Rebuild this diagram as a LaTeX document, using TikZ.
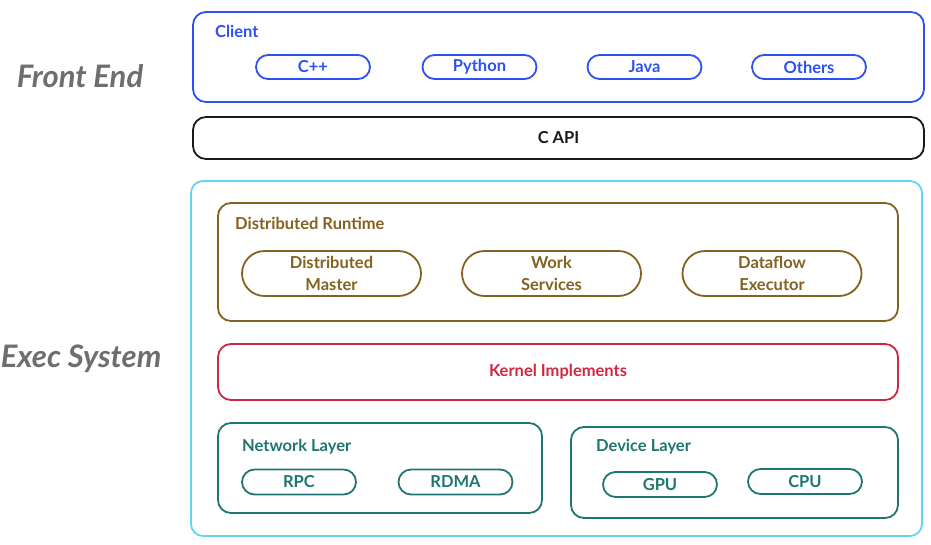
\documentclass[tikz,border=0pt]{standalone}
\usepackage{fontspec}
\setmainfont{Lato}
\usetikzlibrary{shapes.misc}
\definecolor{cblue}{RGB}{45,80,245}
\definecolor{cbrown}{RGB}{130,98,30}
\definecolor{cred}{RGB}{208,40,64}
\definecolor{cteal}{RGB}{30,118,115}
\definecolor{ccyan}{RGB}{95,215,240}
\definecolor{cgray}{RGB}{110,110,110}
\definecolor{cblack}{RGB}{25,25,25}
\tikzset{
  txt/.style={font=\fontsize{16.5}{22}\selectfont\bfseries},
  box/.style={draw, line width=1.8pt, rounded corners=13pt, inner sep=0pt, txt},
  pill/.style={draw, rounded rectangle, line width=1.8pt, inner sep=0pt, align=center, txt},
  ttl/.style={anchor=west, inner sep=0pt, txt},
  side/.style={text=cgray, inner sep=0pt, font=\fontsize{31}{34}\selectfont\bfseries\itshape},
}
\begin{document}
\begin{tikzpicture}[x=1pt,y=-1pt]
\useasboundingbox (0,0) rectangle (931,544);
% side labels
\node[side] (fe) at (80,76) {Front End};
\node[side] (es) at (81,359) {Exec System};
% client
\node[box, draw=cblue, minimum width=731pt, minimum height=90pt] (client) at (558.5,57) {};
\node[ttl, text=cblue] (clientt) at (215,31) {Client};
\node[pill, draw=cblue, text=cblue, minimum width=114pt, minimum height=24pt] (cpp) at (313,67) {C++};
\node[pill, draw=cblue, text=cblue, minimum width=114pt, minimum height=24pt] (py) at (479.5,67) {Python};
\node[pill, draw=cblue, text=cblue, minimum width=114pt, minimum height=24pt] (java) at (644.5,67) {Java};
\node[pill, draw=cblue, text=cblue, minimum width=114pt, minimum height=24pt] (oth) at (809,67) {Others};
% C API
\node[box, draw=cblack, text=cblack, minimum width=731pt, minimum height=42pt] (capi) at (558.5,138) {C API};
% exec
\node[box, draw=ccyan, rounded corners=12pt, minimum width=731pt, minimum height=355pt] (exec) at (556.5,358.5) {};
\node[box, draw=cbrown, minimum width=680pt, minimum height=118pt] (dr) at (558,262) {};
\node[ttl, text=cbrown] (drt) at (235,223) {Distributed Runtime};
\node[pill, draw=cbrown, text=cbrown, minimum width=179pt, minimum height=45pt] (dm) at (331.5,273.5) {Distributed\\Master};
\node[pill, draw=cbrown, text=cbrown, minimum width=179pt, minimum height=45pt] (ws) at (551.5,273.5) {Work\\Services};
\node[pill, draw=cbrown, text=cbrown, minimum width=179pt, minimum height=45pt] (de) at (772,273.5) {Dataflow\\Executor};
\node[box, draw=cred, text=cred, minimum width=680pt, minimum height=56pt] (kern) at (558,372) {Kernel Implements};
% network
\node[box, draw=cteal, minimum width=324pt, minimum height=90pt] (net) at (380,468) {};
\node[ttl, text=cteal] (nett) at (242,447) {Network Layer};
\node[pill, draw=cteal, text=cteal, minimum width=114pt, minimum height=25pt] (rpc) at (299,482) {RPC};
\node[pill, draw=cteal, text=cteal, minimum width=114pt, minimum height=25pt] (rdma) at (455.5,482) {RDMA};
% device
\node[box, draw=cteal, minimum width=327pt, minimum height=91pt] (dev) at (734.5,472.5) {};
\node[ttl, text=cteal] (devt) at (596,447) {Device Layer};
\node[pill, draw=cteal, text=cteal, minimum width=114pt, minimum height=25pt] (gpu) at (660,484.5) {GPU};
\node[pill, draw=cteal, text=cteal, minimum width=114pt, minimum height=25pt] (cpu) at (805,481.5) {CPU};
\end{tikzpicture}
\end{document}
